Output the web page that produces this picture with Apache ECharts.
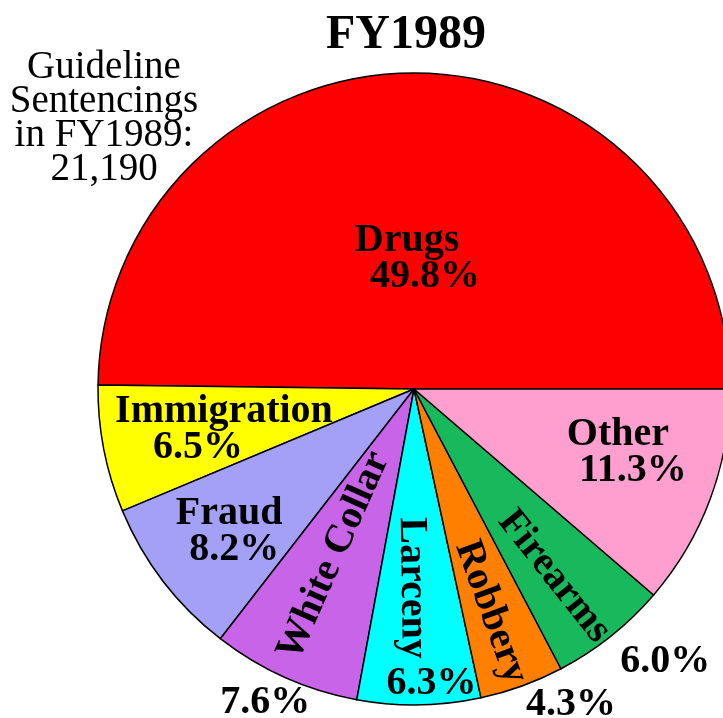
<!DOCTYPE html>
<html>
<head>
<meta charset="utf-8">
<title>FY1989</title>
<script src="https://cdn.jsdelivr.net/npm/echarts@6/dist/echarts.min.js"></script>
<style>
  html, body { margin: 0; padding: 0; background: #fff; }
  #chart { width: 723px; height: 718px; }
</style>
</head>
<body>
<div id="chart"></div>
<script>
const categories = ['Drugs', 'Immigration', 'Fraud', 'White Collar', 'Larceny', 'Robbery', 'Firearms', 'Other']
const shares = [49.8, 6.5, 8.2, 7.6, 6.3, 4.3, 6.0, 11.3]
const sliceColors = ['#ff0000', '#ffff00', '#a3a0f5', '#c864e8', '#00ffff', '#ff8000', '#18b85c', '#ff9fcf']
const noteLines = ['Guideline', 'Sentencings', 'in FY1989:', '21,190']

// these names run along the radius, their percent sits apart
const radialNames = ['White Collar', 'Larceny', 'Robbery', 'Firearms']

// nudges from the default 'inside' label spot (half the radius);
// for the radial names the nudge is in the label's own turned frame
const nameShift = [[-8, 31], [-32, 10], [-57, 45], [-24, -5], [38, 5], [75, 4], [73, 7], [53, 8]]
const pctShift = [null, null, null, [-83, 167], [15, 134], [102, 164], [151, 147], null]
// sideways shift of the percent line under a name
const pctIndent = [36, -52, 10, 0, 0, 0, 0, 30]

const serif = 'Liberation Serif'
const fmt = v => v.toFixed(1) + '%'

const labelFont = {
  fontFamily: serif,
  fontWeight: 'bold',
  fontSize: 40,
  color: '#000'
}

const mainData = categories.map((name, i) => {
  const item = { name: name, value: shares[i], itemStyle: { color: sliceColors[i] } }
  if (radialNames.includes(name)) {
    item.label = { rotate: 'radial', formatter: name }
  } else {
    const ind = pctIndent[i]
    item.label = {
      formatter: '{n|' + name + '}\n{p|' + fmt(shares[i]) + '}',
      rich: {
        n: { ...labelFont, lineHeight: 36 },
        p: { ...labelFont, lineHeight: 36, padding: ind >= 0 ? [0, 0, 0, ind] : [0, -ind, 0, 0] }
      }
    }
  }
  return item
})

const pctData = categories.map((name, i) => ({
  name: name,
  value: shares[i],
  label: { show: pctShift[i] !== null, formatter: fmt(shares[i]) }
}))

const chart = echarts.init(document.getElementById('chart'))

const option = {
  animation: false,
  title: {
    text: 'FY1989',
    left: 321,
    top: 7,
    textStyle: { fontFamily: serif, fontWeight: 'bold', fontSize: 48, color: '#000' }
  },
  graphic: [{
    type: 'text',
    x: 104,
    y: 51,
    style: {
      text: noteLines.join('\n'),
      fontFamily: serif,
      fontSize: 39,
      lineHeight: 34,
      fill: '#000',
      align: 'center',
      verticalAlign: 'top'
    }
  }],
  series: [
    {
      type: 'pie',
      center: [414, 389],
      radius: 316,
      startAngle: 0,
      clockwise: false,
      avoidLabelOverlap: false,
      itemStyle: { borderColor: '#000', borderWidth: 1.5 },
      label: { show: true, position: 'inside', ...labelFont },
      labelLine: { show: false },
      labelLayout: p => ({ dx: nameShift[p.dataIndex][0], dy: nameShift[p.dataIndex][1] }),
      emphasis: { disabled: true },
      data: mainData
    },
    {
      type: 'pie',
      center: [414, 389],
      radius: 316,
      startAngle: 0,
      clockwise: false,
      silent: true,
      z: 3,
      avoidLabelOverlap: false,
      itemStyle: { color: 'rgba(0,0,0,0)', borderWidth: 0 },
      label: { position: 'inside', ...labelFont },
      labelLine: { show: false },
      labelLayout: p => {
        const s = pctShift[p.dataIndex]
        return s ? { dx: s[0], dy: s[1] } : {}
      },
      emphasis: { disabled: true },
      data: pctData
    }
  ]
}

chart.setOption(option)
window.addEventListener('resize', () => chart.resize())
</script>
</body>
</html>
